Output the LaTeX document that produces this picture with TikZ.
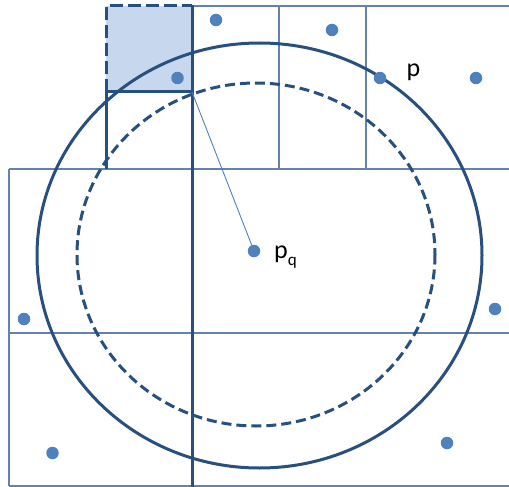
\documentclass[tikz,border=0pt]{standalone}
\usepackage{fontspec}
\setmainfont{Carlito}
\definecolor{darkb}{HTML}{27507F}
\definecolor{gridb}{HTML}{6382AE}
\definecolor{dotb}{HTML}{4F81BD}
\definecolor{shadeb}{HTML}{C6D7EE}
\tikzset{
  gridline/.style={draw=gridb,line width=1.3pt},
  thickline/.style={draw=darkb,line width=3pt},
  linkline/.style={draw=dotb,line width=0.9pt},
  pt/.style={circle,fill=dotb,inner sep=0pt,minimum size=12.5pt},
  lbl/.style={inner sep=0pt,font=\fontsize{26}{28}\selectfont}
}
\begin{document}
\begin{tikzpicture}[x=1pt,y=-1pt]
\useasboundingbox (0,0) rectangle (509,487);
% shaded query cell
\fill[shadeb] (106,6) rectangle (192,92);
% thin grid
\draw[gridline] (192,6) -- (509,6);
\draw[gridline] (279,6) -- (279,169);
\draw[gridline] (366,6) -- (366,169);
\draw[gridline] (9,169) -- (509,169);
\draw[gridline] (9,169) -- (9,486);
\draw[gridline] (9,333) -- (509,333);
\draw[gridline] (9,486) -- (509,486);
% thick lines
\draw[thickline,dash pattern=on 13pt off 5pt] (106,92) -- (106,6) -- (192,6);
\draw[thickline] (192,5) -- (192,487);
\draw[thickline] (106,92) -- (192,92);
\draw[thickline] (106,92) -- (106,169);
% circles
\draw[thickline] (259.5,255.5) ellipse [x radius=222.5, y radius=212.5];
\draw[thickline,dash pattern=on 10pt off 5pt] (256,254.5) ellipse [x radius=179, y radius=171.5];
% points
\node[pt] (pq) at (254,251) {};
\coordinate (corner) at (192,92);
\draw[linkline] (corner) -- (pq);
\node[pt] (a1) at (216,20) {};
\node[pt] (a2) at (177.5,78) {};
\node[pt] (a3) at (332,30) {};
\node[pt] (p) at (380,78) {};
\node[pt] (a5) at (476,78) {};
\node[pt] (a6) at (24,319) {};
\node[pt] (a7) at (52.5,453) {};
\node[pt] (a8) at (495,309) {};
\node[pt] (a9) at (447,443) {};
% labels
\node[lbl,anchor=base] (plbl) at (413.5,76.5) {p};
\node[lbl,anchor=base west] (pqlbl) at (274,258) {p\raisebox{-0.28em}{\fontsize{17}{17}\selectfont q}};
\end{tikzpicture}
\end{document}
